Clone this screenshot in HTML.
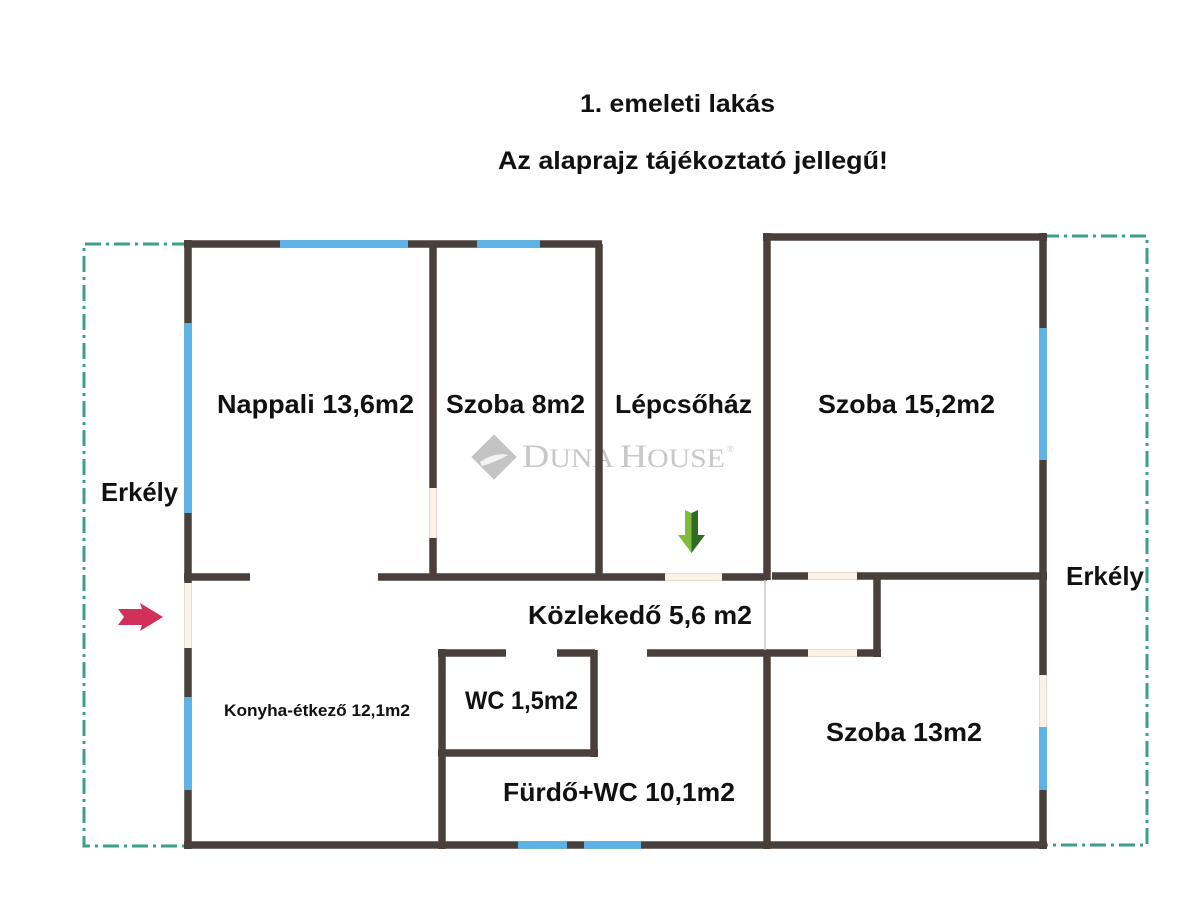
<!DOCTYPE html>
<html><head><meta charset="utf-8"><style>
html,body{margin:0;padding:0;background:#fff;}
svg{display:block;}
text{font-family:"Liberation Sans",Arial,sans-serif;font-weight:bold;fill:#111;}
</style></head><body>
<svg width="1200" height="915" viewBox="0 0 1200 915" xmlns="http://www.w3.org/2000/svg">
<rect width="1200" height="915" fill="#fff"/>

<!-- titles -->
<text x="580" y="112" font-size="25" textLength="195" lengthAdjust="spacingAndGlyphs">1. emeleti lakás</text>
<text x="498" y="169" font-size="25" textLength="390" lengthAdjust="spacingAndGlyphs">Az alaprajz tájékoztató jellegű!</text>

<!-- balconies dashed -->
<g fill="none" stroke="#3a9f8b" stroke-width="3" stroke-dasharray="16 5 3 5">
<path d="M188 244 H84 V846 H188"/>
<path d="M1043 236 H1147 V845 H1043"/>
</g>

<!-- watermark -->
<g>
<rect x="478" y="441" width="32" height="32" fill="#c4c4c4" transform="rotate(45 494 457)"/>
<path d="M480 462 Q494 452 508 455 Q496 462 482 466 Z" fill="#fff" opacity="0.8"/>
<text x="522" y="467" textLength="203" lengthAdjust="spacingAndGlyphs" style="fill:#c8c8c8;font-weight:normal;font-family:'Liberation Serif',serif"><tspan font-size="33">D</tspan><tspan font-size="26">UNA </tspan><tspan font-size="33">H</tspan><tspan font-size="26">OUSE</tspan></text>
<text x="727" y="452" font-size="9" style="fill:#c8c8c8;font-weight:normal;font-family:'Liberation Serif',serif">®</text>
</g>

<!-- walls -->
<g stroke="#4a403b" stroke-width="7.5" fill="none">
<line x1="184" y1="244" x2="602" y2="244"/>
<line x1="188" y1="240" x2="188" y2="849"/>
<line x1="433" y1="244" x2="433" y2="580"/>
<line x1="599" y1="244" x2="599" y2="580"/>
<line x1="184" y1="577" x2="250" y2="577"/>
<line x1="378" y1="577" x2="767" y2="577"/>
<line x1="763" y1="237" x2="1047" y2="237"/>
<line x1="767" y1="233" x2="767" y2="580"/>
<line x1="767" y1="650" x2="767" y2="849"/>
<line x1="1043" y1="233" x2="1043" y2="849"/>
<line x1="772" y1="576" x2="1047" y2="576"/>
<line x1="877" y1="573" x2="877" y2="657"/>
<line x1="647" y1="653" x2="881" y2="653"/>
<line x1="442" y1="649" x2="442" y2="849"/>
<line x1="438" y1="653" x2="506" y2="653"/>
<line x1="557" y1="653" x2="595" y2="653"/>
<line x1="594" y1="650" x2="594" y2="757"/>
<line x1="438" y1="753" x2="598" y2="753"/>
<line x1="184" y1="845" x2="1047" y2="845"/>
</g>
<!-- thin door line -->
<line x1="765" y1="580" x2="765" y2="650" stroke="#c8c8c8" stroke-width="1.5"/>

<!-- windows (blue) -->
<g stroke="#5ab4e6" stroke-width="7.5">
<line x1="280" y1="244" x2="408" y2="244"/>
<line x1="477" y1="244" x2="540" y2="244"/>
<line x1="188" y1="323" x2="188" y2="513"/>
<line x1="188" y1="697" x2="188" y2="790"/>
<line x1="1043" y1="328" x2="1043" y2="460"/>
<line x1="1043" y1="727" x2="1043" y2="790"/>
<line x1="518" y1="845" x2="567" y2="845"/>
<line x1="584" y1="845" x2="641" y2="845"/>
</g>
<!-- doors (cream) -->
<g stroke="#fbf1e4" stroke-width="7.5">
<line x1="188" y1="583" x2="188" y2="648"/>
<line x1="433" y1="488" x2="433" y2="538"/>
<line x1="665" y1="577" x2="722" y2="577"/>
<line x1="808" y1="576" x2="857" y2="576"/>
<line x1="808" y1="653" x2="857" y2="653"/>
<line x1="1043" y1="675" x2="1043" y2="727"/>
</g>

<!-- arrows -->
<polygon points="685,510 691.5,513 691.5,553 678,535 685,535" fill="#7fbc3e"/>
<polygon points="691.5,513 698,510 698,535 705,535 691.5,553" fill="#2f6b22"/>
<polygon points="118,609 142,609 140,603 163,617 140,631 142,625 118,625 124,617" fill="#d2305a"/>

<!-- labels -->
<text x="217" y="413" font-size="26" textLength="197" lengthAdjust="spacingAndGlyphs">Nappali 13,6m2</text>
<text x="446" y="413" font-size="26" textLength="139" lengthAdjust="spacingAndGlyphs">Szoba 8m2</text>
<text x="615" y="413" font-size="26" textLength="137" lengthAdjust="spacingAndGlyphs">Lépcsőház</text>
<text x="818" y="413" font-size="26" textLength="177" lengthAdjust="spacingAndGlyphs">Szoba 15,2m2</text>
<text x="101" y="501" font-size="26" textLength="77" lengthAdjust="spacingAndGlyphs">Erkély</text>
<text x="1066" y="585" font-size="26" textLength="78" lengthAdjust="spacingAndGlyphs">Erkély</text>
<text x="528" y="624" font-size="26" textLength="224" lengthAdjust="spacingAndGlyphs">Közlekedő 5,6 m2</text>
<text x="224" y="716" font-size="17" textLength="186" lengthAdjust="spacingAndGlyphs">Konyha-étkező 12,1m2</text>
<text x="465" y="709" font-size="25" textLength="113" lengthAdjust="spacingAndGlyphs">WC 1,5m2</text>
<text x="503" y="801" font-size="26" textLength="232" lengthAdjust="spacingAndGlyphs">Fürdő+WC 10,1m2</text>
<text x="826" y="741" font-size="26" textLength="156" lengthAdjust="spacingAndGlyphs">Szoba 13m2</text>
</svg>
</body></html>
